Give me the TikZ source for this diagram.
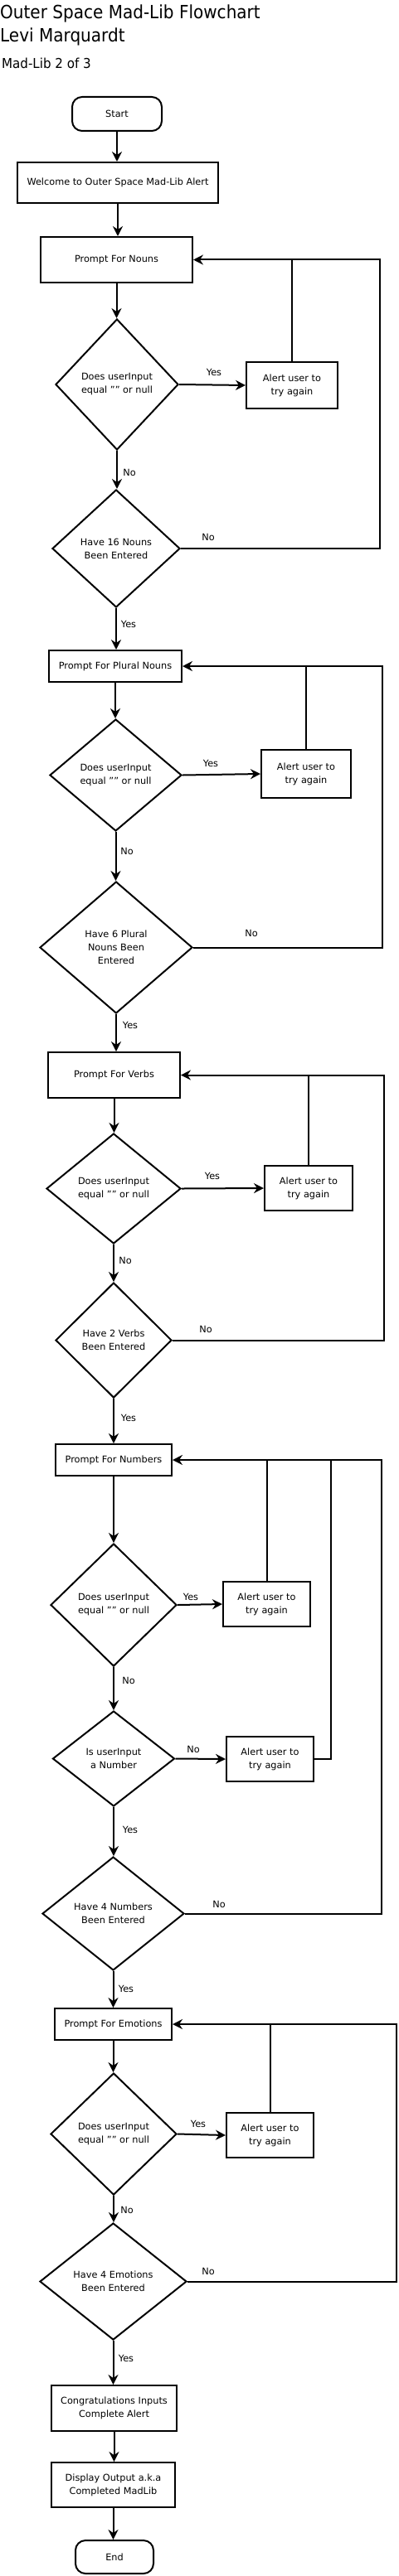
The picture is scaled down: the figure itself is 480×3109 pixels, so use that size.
\documentclass[tikz,border=0pt]{standalone}
\usepackage{fontspec}
\setmainfont{DejaVu Sans}
\usetikzlibrary{shapes.geometric,arrows.meta,calc}
\begin{document}
\begin{tikzpicture}[x=1pt,y=-1pt,
  every node/.style={font=\fontsize{11.3}{16}\selectfont, align=center, inner sep=0pt, text=black},
  proc/.style={draw, line width=2pt, rectangle},
  term/.style={draw, line width=2pt, rectangle, rounded corners=12pt},
  dec/.style={draw, line width=2pt, diamond},
  ln/.style={line width=2pt},
  arr/.style={line width=2pt, -{Stealth[length=12pt,width=12pt,inset=4pt]}},
  lab/.style={font=\fontsize{11.3}{14}\selectfont}
]
\fill[white] (0,0) rectangle (480,3109);
\useasboundingbox (0,0) rectangle (480,3109);

% titles
\node[anchor=base west, font=\fontsize{22}{27}\selectfont, xscale=0.91, transform shape] (t1) at (0,22.7) {Outer Space Mad-Lib Flowchart};
\node[anchor=base west, font=\fontsize{22}{27}\selectfont, xscale=0.91, transform shape] (t2) at (0,50.5) {Levi Marquardt};
\node[anchor=base west, font=\fontsize{16.4}{20}\selectfont, xscale=0.92, transform shape] (t3) at (2,82.7) {Mad-Lib 2 of 3};

% nodes
\node[term, minimum width=108, minimum height=41] (start) at (141,137.5) {Start};
\node[proc, minimum width=242, minimum height=49] (welcome) at (142,220.5) {Welcome to Outer Space Mad-Lib Alert};
\node[proc, minimum width=183, minimum height=55] (pn) at (140.5,313.5) {Prompt For Nouns};
\node[dec, minimum width=148, minimum height=158] (d1) at (141,464) {Does userInput\\equal "" or null};
\node[proc, minimum width=110, minimum height=56] (a1) at (352,465) {Alert user to\\try again};
\node[dec, minimum width=154, minimum height=142] (d2) at (140,662) {Have 16 Nouns\\Been Entered};

\node[proc, minimum width=160, minimum height=38] (ppn) at (139,804) {Prompt For Plural Nouns};
\node[dec, minimum width=159, minimum height=135] (d3) at (139.5,935.5) {Does userInput\\equal "" or null};
\node[proc, minimum width=108, minimum height=58] (a2) at (369,934) {Alert user to\\try again};
\node[dec, minimum width=184, minimum height=159] (d4) at (140,1143.5) {Have 6 Plural\\Nouns Been\\Entered};

\node[proc, minimum width=159, minimum height=55] (pv) at (137.5,1297.5) {Prompt For Verbs};
\node[dec, minimum width=162, minimum height=133] (d5) at (137,1434.5) {Does userInput\\equal "" or null};
\node[proc, minimum width=106, minimum height=54] (a3) at (372,1434) {Alert user to\\try again};
\node[dec, minimum width=140, minimum height=139] (d6) at (137,1617.5) {Have 2 Verbs\\Been Entered};

\node[proc, minimum width=140, minimum height=38] (pnum) at (137,1762) {Prompt For Numbers};
\node[dec, minimum width=152, minimum height=148] (d7) at (137,1937) {Does userInput\\equal "" or null};
\node[proc, minimum width=105, minimum height=54] (a4) at (321.5,1936) {Alert user to\\try again};
\node[dec, minimum width=147, minimum height=115] (d8) at (137,2122.5) {Is userInput\\a Number};
\node[proc, minimum width=105, minimum height=54] (a5) at (325.5,2123) {Alert user to\\try again};
\node[dec, minimum width=171, minimum height=137] (d9) at (136.5,2309.5) {Have 4 Numbers\\Been Entered};

\node[proc, minimum width=141, minimum height=38] (pem) at (136.5,2443) {Prompt For Emotions};
\node[dec, minimum width=152, minimum height=147] (d10) at (137,2575.5) {Does userInput\\equal "" or null};
\node[proc, minimum width=105, minimum height=54] (a6) at (325.5,2577) {Alert user to\\try again};
\node[dec, minimum width=177, minimum height=141] (d11) at (136.5,2753.5) {Have 4 Emotions\\Been Entered};

\node[proc, minimum width=151, minimum height=55] (cong) at (137.5,2906.5) {Congratulations Inputs\\Complete Alert};
\node[proc, minimum width=149, minimum height=54] (disp) at (136.5,2999) {Display Output a.k.a\\Completed MadLib};
\node[term, minimum width=94, minimum height=40] (end) at (138,3086) {End};

% loop rails
\coordinate (k1) at (458,0);
\coordinate (k2) at (461,0);
\coordinate (k3) at (463,0);
\coordinate (k4) at (460,0);
\coordinate (k5) at (399,0);
\coordinate (k6) at (478,0);

% main flow
\draw[arr] (start.south) -- (start.south |- welcome.north);
\draw[arr] (welcome.south) -- (welcome.south |- pn.north);
\draw[arr] (pn.south) -- (pn.south |- d1.north);
\draw[arr] (d1.east) -- (a1.west);
\draw[arr] (d1.south) -- (d1.south |- d2.north);
\draw[ln] (a1.north) -- (a1.north |- pn.east);
\draw[arr] (d2.east) -| (k1 |- a1.east) |- (pn.east);
\draw[arr] (d2.south) -- (d2.south |- ppn.north);

\draw[arr] (ppn.south) -- (ppn.south |- d3.north);
\draw[arr] (d3.east) -- (a2.west);
\draw[arr] (d3.south) -- (d3.south |- d4.north);
\draw[ln] (a2.north) -- (a2.north |- ppn.east);
\draw[arr] (d4.east) -| (k2 |- a2.east) |- (ppn.east);
\draw[arr] (d4.south) -- (d4.south |- pv.north);

\draw[arr] (pv.south) -- (pv.south |- d5.north);
\draw[arr] (d5.east) -- (a3.west);
\draw[arr] (d5.south) -- (d5.south |- d6.north);
\draw[ln] (a3.north) -- (a3.north |- pv.east);
\draw[arr] (d6.east) -| (k3 |- a3.east) |- (pv.east);
\draw[arr] (d6.south) -- (d6.south |- pnum.north);

\draw[arr] (pnum.south) -- (pnum.south |- d7.north);
\draw[arr] (d7.east) -- (a4.west);
\draw[arr] (d7.south) -- (d7.south |- d8.north);
\draw[ln] (a4.north) -- (a4.north |- pnum.east);
\draw[arr] (d8.east) -- (a5.west);
\draw[ln] (a5.east) -| (k5 |- pnum.east);
\draw[arr] (d8.south) -- (d8.south |- d9.north);
\draw[arr] (d9.east) -| (k4 |- a5.east) |- (pnum.east);
\draw[arr] (d9.south) -- (d9.south |- pem.north);

\draw[arr] (pem.south) -- (pem.south |- d10.north);
\draw[arr] (d10.east) -- (a6.west);
\draw[arr] (d10.south) -- (d10.south |- d11.north);
\draw[ln] (a6.north) -- (a6.north |- pem.east);
\draw[arr] (d11.east) -| (k6 |- a6.east) |- (pem.east);
\draw[arr] (d11.south) -- (d11.south |- cong.north);

\draw[arr] (cong.south) -- (cong.south |- disp.north);
\draw[arr] (disp.south) -- (disp.south |- end.north);

% labels
\node[lab] (y1) at (258,449) {Yes};
\node[lab] (n1) at (156,570) {No};
\node[lab] (n2) at (251,648) {No};
\node[lab] (y2) at (155,753) {Yes};
\node[lab] (y3) at (254,921) {Yes};
\node[lab] (n3) at (153,1027) {No};
\node[lab] (n4) at (303,1126) {No};
\node[lab] (y4) at (157,1237) {Yes};
\node[lab] (y5) at (256,1419) {Yes};
\node[lab] (n5) at (151,1521) {No};
\node[lab] (n6) at (248,1604) {No};
\node[lab] (y6) at (155,1711) {Yes};
\node[lab] (y7) at (230,1927) {Yes};
\node[lab] (n7) at (155,2028) {No};
\node[lab] (n8) at (233,2111) {No};
\node[lab] (y8) at (157,2208) {Yes};
\node[lab] (n9) at (264,2298) {No};
\node[lab] (y9) at (152,2400) {Yes};
\node[lab] (y10) at (239,2563) {Yes};
\node[lab] (n10) at (153,2667) {No};
\node[lab] (n11) at (251,2741) {No};
\node[lab] (y11) at (152,2846) {Yes};
\end{tikzpicture}
\end{document}
